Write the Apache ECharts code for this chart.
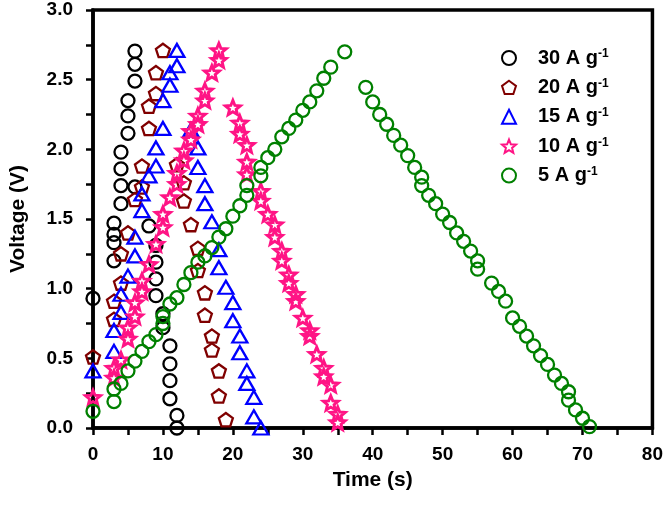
<!DOCTYPE html>
<html><head><meta charset="utf-8">
<script src="https://cdn.jsdelivr.net/npm/echarts@6/dist/echarts.min.js"></script>
<style>html,body{margin:0;padding:0;background:#fff}#c{width:666px;height:509px}</style>
</head><body><div id="c"></div>
<script>
var seriesNames = ['30', '20', '15', '10', '5'];
var t30 = [0,3,3,3,3,4,4,4,4,5,5,5,6,6,6, 6,8,9,9,9,9,10,10,11,11,11,11,12,12];
var v30 = [0.93,1.20,1.33,1.39,1.47,1.61,1.74,1.86,1.98,2.115,2.24,2.35,2.49,2.61,2.705, 1.73,1.45,1.31,1.19,1.07,0.95,0.82,0.72,0.59,0.46,0.34,0.21,0.09,0.0];
var t20 = [0,3,3,4,4,5,6,7,7,8,8,9,9,10, 12,13,13,14,15,15,16,16,17,17,18,18,19];
var v20 = [0.51,0.78,0.91,1.04,1.25,1.40,1.64,1.73,1.88,2.15,2.31,2.40,2.55,2.71, 1.89,1.76,1.63,1.46,1.29,1.13,0.97,0.81,0.66,0.56,0.41,0.23,0.06];
var t15 = [0,3,3,4,4,5,6,6,7,7,8,9,9,10,10,11,11,12,12, 14,15,15,16,16,17,18,18,19,20,20,21,21,22,22,23,23,24];
var v15 = [0.41,0.55,0.70,0.83,0.96,1.09,1.235,1.37,1.56,1.68,1.81,1.88,2.01,2.15,2.35,2.46,2.55,2.60,2.71, 2.14,2.01,1.87,1.74,1.61,1.48,1.28,1.15,1.01,0.90,0.77,0.66,0.54,0.41,0.32,0.22,0.08,0.0];
var t10 = [0,3,3,4,5,5,6,6,7,7,8,9,10,10,11,12,12,13,13,14,14,15,15,16,16,17,18,18, 20,21,21,22,22,22,24,24,25,26,26,27,27,28,28,29,29,30,31,31,32,33,33,34,34,35,35];
var v10 = [0.22,0.36,0.43,0.49,0.64,0.72,0.80,0.90,0.98,1.055,1.175,1.32,1.44,1.535,1.655,1.75,1.83,1.92,1.99,2.07,2.13,2.18,2.24,2.35,2.42,2.55,2.64,2.71, 2.30,2.19,2.11,2.03,1.91,1.82,1.70,1.63,1.535,1.46,1.37,1.27,1.20,1.10,1.04,0.96,0.91,0.79,0.70,0.66,0.53,0.43,0.37,0.31,0.18,0.10,0.04];
var t5 = [0,3,3,4,5,6,7,8,9,10,10,11,12,13,14,15,16,17,18,19,20,21,22,22,24,24,25,26,27,28,29,30,31,32,33,34,36, 39,40,41,42,43,44,45,46,47,47,48,49,50,51,52,53,54,55,55,57,58,59,60,61,62,63,64,65,66,67,68,68,69,70,71];
var v5 = [0.12,0.19,0.28,0.32,0.41,0.48,0.55,0.62,0.67,0.75,0.80,0.89,0.935,1.03,1.115,1.19,1.235,1.295,1.37,1.43,1.52,1.595,1.67,1.74,1.81,1.87,1.94,2.00,2.09,2.15,2.21,2.28,2.34,2.42,2.51,2.59,2.70, 2.445,2.34,2.25,2.18,2.10,2.03,1.955,1.87,1.80,1.74,1.67,1.61,1.535,1.475,1.40,1.34,1.27,1.20,1.14,1.04,0.98,0.91,0.79,0.73,0.66,0.59,0.52,0.456,0.38,0.32,0.26,0.20,0.13,0.07,0.01];
var xTicks = [0, 10, 20, 30, 40, 50, 60, 70, 80];
var yTicks = [0.0, 0.5, 1.0, 1.5, 2.0, 2.5, 3.0];

var pentagon = 'path://M50,0L97.55,34.55L79.39,90.45L20.61,90.45L2.45,34.55Z';
var star = 'path://M50,0L62.93,32.2L97.55,34.55L70.92,56.8L79.39,90.45L50,72L20.61,90.45L29.08,56.8L2.45,34.55L37.07,32.2Z';

function zip(t, v) { return t.map(function (x, i) { return [x, v[i]]; }); }
var defs = [
  {t: t30, v: v30, color: '#000000', symbol: 'circle', size: 13, bw: 2.3},
  {t: t20, v: v20, color: '#800000', symbol: pentagon, size: 14, bw: 2.3},
  {t: t15, v: v15, color: '#0000ff', symbol: 'triangle', size: [15, 13], bw: 2.3},
  {t: t10, v: v10, color: '#ff1485', symbol: star, size: 15, bw: 2.9},
  {t: t5, v: v5, color: '#008000', symbol: 'circle', size: 13, bw: 2.3}
];
var series = defs.map(function (d, i) {
  return {
    name: seriesNames[i], type: 'scatter', data: zip(d.t, d.v),
    symbol: d.symbol, symbolSize: d.size, symbolKeepAspect: true,
    itemStyle: {color: 'rgba(255,255,255,0)', borderColor: d.color, borderWidth: d.bw, opacity: 1},
    emphasis: {disabled: true}, clip: false, animation: false
  };
});
var font = 'Liberation Sans, Arial, sans-serif';
var chart = echarts.init(document.getElementById('c'));
chart.setOption({
  animation: false,
  backgroundColor: '#fff',
  grid: {left: 92, right: 11, top: 10, bottom: 81, show: true, borderColor: '#000', borderWidth: 3.5, backgroundColor: 'transparent'},
  legend: {
    orient: 'vertical', left: 496, top: 43, itemWidth: 14, itemHeight: 14, itemGap: 9.4,
    data: seriesNames,
    formatter: function (n) { return n + ' A g{s|-1}'; },
    textStyle: {fontFamily: font, fontWeight: 'bold', fontSize: 20, color: '#000', lineHeight: 20, padding: [0, 0, 0, 17],
      rich: {s: {fontFamily: font, fontWeight: 'bold', fontSize: 12, verticalAlign: 'top', lineHeight: 12, color: '#000'}}}
  },
  xAxis: {
    type: 'value', min: xTicks[0], max: xTicks[xTicks.length - 1], interval: 10,
    name: 'Time (s)', nameLocation: 'middle', nameGap: 42,
    nameTextStyle: {fontFamily: font, fontWeight: 'bold', fontSize: 21, color: '#000'},
    axisLine: {show: true, lineStyle: {color: '#000', width: 3.5}},
    axisTick: {show: true, length: 7, lineStyle: {color: '#000', width: 2.5}},
    minorTick: {show: true, splitNumber: 2, length: 7, lineStyle: {color: '#000', width: 2.5}},
    splitLine: {show: false},
    axisLabel: {margin: 17, fontFamily: font, fontWeight: 'bold', fontSize: 19, color: '#000',
      formatter: function (v) { return xTicks.indexOf(v) >= 0 ? String(v) : ''; }}
  },
  yAxis: {
    type: 'value', min: yTicks[0], max: yTicks[yTicks.length - 1], interval: 0.5,
    name: 'Voltage (V)', nameLocation: 'middle', nameGap: 64,
    nameTextStyle: {fontFamily: font, fontWeight: 'bold', fontSize: 21, color: '#000'},
    axisLine: {show: true, lineStyle: {color: '#000', width: 3.5}},
    axisTick: {show: true, length: 7, lineStyle: {color: '#000', width: 2.5}},
    minorTick: {show: true, splitNumber: 2, length: 7, lineStyle: {color: '#000', width: 2.5}},
    splitLine: {show: false},
    axisLabel: {margin: 20, fontFamily: font, fontWeight: 'bold', fontSize: 19, color: '#000',
      formatter: function (v) { return v.toFixed(1); }}
  },
  series: series
});
</script></body></html>
